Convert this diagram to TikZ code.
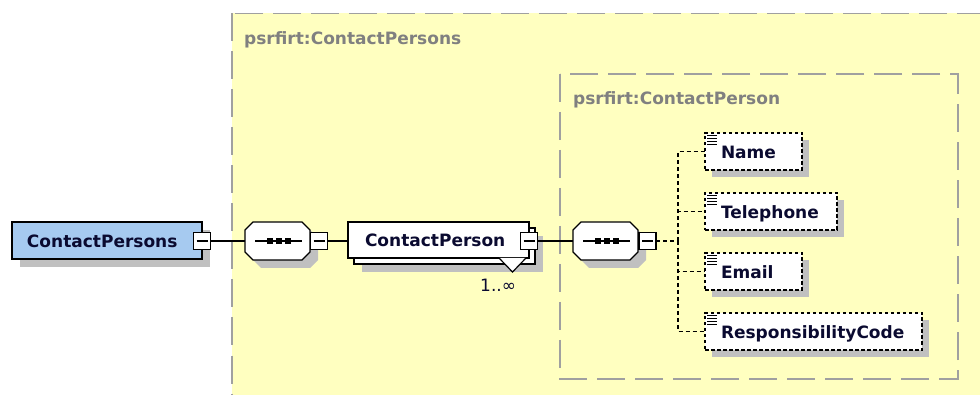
\documentclass[tikz,border=0pt]{standalone}
\usepackage{fontspec}
\setmainfont{DejaVu Sans}
\usetikzlibrary{shadows}
\definecolor{yel}{HTML}{FFFFC0}
\definecolor{dashgray}{HTML}{A0A0A0}
\definecolor{shgray}{HTML}{C0C0C0}
\definecolor{blu}{HTML}{A6CAF0}
\definecolor{txt}{HTML}{0A0A30}
\definecolor{lblgray}{HTML}{808080}
\newcommand\octshape[4]{(#1+8,#2) -- (#3-8,#2) -- (#3,#2+8) -- (#3,#4-8) -- (#3-8,#4) -- (#1+8,#4) -- (#1,#4-8) -- (#1,#2+8) -- cycle}
\newcommand\seqmarks[2]{%
  \draw[line width=1.2pt] (#1-23.5,#2) -- (#1+23.5,#2);
  \fill (#1-12,#2-3) rectangle ++(6,6);
  \fill (#1-3,#2-3) rectangle ++(6,6);
  \fill (#1+6,#2-3) rectangle ++(6,6);
}
\newcommand\elicon[1]{%
  \foreach \k in {0,1,2,3}{\draw[line width=1pt] ([xshift=2pt,yshift=-2.5pt-3pt*\k]#1.north west) -- ++(10pt,0);}
}
\tikzset{
  basefont/.style={font=\fontsize{17}{20}\selectfont},
  boldfont/.style={font=\fontsize{17}{20}\selectfont\bfseries},
  shad/.style={drop shadow={shadow xshift=8pt,shadow yshift=-8pt,fill=shgray,opacity=1}},
  typebox/.style={draw=dashgray, fill=yel, line width=1.8pt, dash pattern=on 28pt off 10pt},
  typelabel/.style={boldfont, text=lblgray, anchor=base west, inner sep=0pt},
  compbox/.style={draw=black, line width=1.2pt, anchor=north west, inner ysep=0pt, outer sep=0pt,
    text height=14pt, text depth=0pt, align=left, boldfont, text=txt},
  elbox/.style={compbox, fill=white, dash pattern=on 3.5pt off 2.5pt, minimum height=37pt, inner xsep=16pt,
    drop shadow={shadow xshift=7pt,shadow yshift=-7pt,fill=shgray,opacity=1}},
  minusbox/.style={draw=black, fill=white, line width=1.2pt, minimum size=17pt, inner sep=0pt, outer sep=0pt,
    path picture={\draw[line width=1.2pt] ([xshift=3pt]path picture bounding box.west) -- ([xshift=-3pt]path picture bounding box.east);}},
  seqnode/.style={minimum width=65pt, minimum height=38pt, inner sep=0pt, outer sep=0pt},
  conn/.style={draw=black, line width=1.2pt},
  dconn/.style={draw=black, line width=1.2pt, dash pattern=on 4pt off 3pt},
}
\begin{document}
\begin{tikzpicture}[x=1pt,y=-1pt]
\useasboundingbox (0,0) rectangle (980,395);
\clip (0,0) rectangle (980,395);
% type boxes
\path[typebox] (232,13.5) rectangle (1000,420);
\node[typelabel] (lbl1) at (244,45) {psrfirt:ContactPersons};
\path[typebox] (560,74) rectangle (958,379);
\node[typelabel] (lbl2) at (573,105) {psrfirt:ContactPerson};
% root element
\node[compbox, fill=blu, shad, minimum width=190pt, minimum height=37pt, inner xsep=15pt, text width=160pt] (cps) at (12,222) {ContactPersons};
\node[minusbox] (m0) at (202,241) {};
% sequence 1
\node[seqnode] (seq1) at (277.5,241) {};
\fill[shgray] \octshape{253}{230}{318}{268};
\draw[line width=1.2pt, fill=white] \octshape{245}{222}{310}{260};
\seqmarks{278.5}{241}
\node[minusbox] (m1) at (319,241) {};
% ContactPerson
\node[compbox, fill=white, shad, minimum width=181pt, minimum height=36pt] (cpback) at (354,228) {};
\node[compbox, fill=white, minimum width=181pt, minimum height=36pt, inner xsep=17pt, text width=147pt] (cp) at (348,222) {ContactPerson};
\draw[line width=1.2pt, fill=white] (499,258) -- (512.5,272) -- (526,258);
\node[minusbox] (m2) at (529,241) {};
\node[basefont, text=txt, anchor=base west, inner sep=0pt] (mult) at (480,292) {1..∞};
% sequence 2
\node[seqnode] (seq2) at (605.5,241) {};
\fill[shgray] \octshape{581}{230}{646}{268};
\draw[line width=1.2pt, fill=white] \octshape{573}{222}{638}{260};
\seqmarks{606.5}{241}
\node[minusbox] (m3) at (647.5,241) {};
% child elements
\node[elbox, minimum width=97pt, text width=65pt] (name) at (705,133) {Name};
\node[elbox, minimum width=132pt, text width=100pt] (tel) at (705,193) {Telephone};
\node[elbox, minimum width=97pt, text width=65pt] (email) at (705,253) {Email};
\node[elbox, minimum width=217pt, text width=185pt] (resp) at (705,313) {ResponsibilityCode};
\elicon{name}
\elicon{tel}
\elicon{email}
\elicon{resp}
% connectors
\coordinate (trunk) at (678,241);
\draw[conn] (m0.east) -- (seq1.west |- m0.east);
\draw[conn] (m1.east) -- (cp.west |- m1.east);
\draw[conn] (m2.east) -- (seq2.west |- m2.east);
\draw[dconn] (m3.east) -- (trunk);
\draw[dconn] (trunk) |- (name.west);
\draw[dconn] (trunk) |- (tel.west);
\draw[dconn] (trunk) |- (email.west);
\draw[dconn] (trunk) |- (resp.west);
\end{tikzpicture}
\end{document}
